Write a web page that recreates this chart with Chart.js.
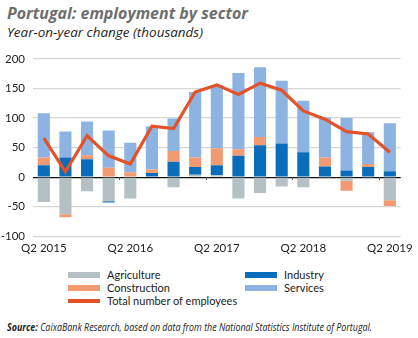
<!DOCTYPE html>
<html>
<head>
<meta charset="utf-8">
<script src="https://cdn.jsdelivr.net/npm/chart.js@4/dist/chart.umd.min.js"></script>
<style>
  html, body { margin: 0; padding: 0; background: #fff; }
  body { width: 418px; height: 338px; position: relative; overflow: hidden; font-family: Lato, "Open Sans", sans-serif; }
  .fit { position: absolute; white-space: nowrap; transform-origin: left center; display: inline-block; }
  #title { left: 7px; top: 2px; font: italic 700 16px "Open Sans", sans-serif; color: #6e6e6e; }
  #subtitle { left: 7px; top: 24px; font: italic 400 12.5px "Open Sans", sans-serif; color: #1e1e1e; }
  #chartBox { position: absolute; left: 0; top: 44px; width: 418px; height: 216px; }
  #legend { position: absolute; left: 0; top: 268px; width: 418px; height: 40px; }
  .item { position: absolute; height: 13px; line-height: 13px; font: 400 11px Lato, sans-serif; color: #222; white-space: nowrap; }
  .sw { position: absolute; left: 0; width: 32px; }
  .lbl { position: absolute; left: 39px; top: 0; }
  #source { left: 7px; top: 320px; font: italic 400 10px "Open Sans", sans-serif; color: #222; }
</style>
</head>
<body>
<div id="title" class="fit" data-w="241">Portugal: employment by sector</div>
<div id="subtitle" class="fit" data-w="196">Year-on-year change (thousands)</div>
<div id="chartBox"><canvas id="c"></canvas></div>
<div id="legend"></div>
<div id="source" class="fit" data-w="365"><b>Source:</b> CaixaBank Research, based on data from the National Statistics Institute of Portugal.</div>
<script>
// Quarterly year-on-year change in employment, thousands of people
const quarters = [
  "Q2 2015", "Q3 2015", "Q4 2015", "Q1 2016",
  "Q2 2016", "Q3 2016", "Q4 2016", "Q1 2017",
  "Q2 2017", "Q3 2017", "Q4 2017", "Q1 2018",
  "Q2 2018", "Q3 2018", "Q4 2018", "Q1 2019",
  "Q2 2019"
];
const agriculture  = [-42, -63, -24, -41, -36, 0, -17, 4, 3, -36, -27, -16, -17, -3, -6, -3, -39];
const industry     = [20, 33, 30, -2, 0, 7, 26, 13, 17, 36, 54, 57, 42, 18, 11, 17, 10];
const construction = [13, -5, 7, 16, 8, 6, 18, 16, 29, 11, 14, 0, 0, 15, -17, 5, -10];
const services     = [75, 44, 57, 63, 50, 73, 55, 111, 107, 129, 118, 106, 87, 68, 89, 54, 81];
const totalEmployees = [66, 9, 70, 36, 22, 86, 82, 144, 156, 140, 159, 147, 112, 98, 77, 73, 42];
const yTicks = [-100, -50, 0, 50, 100, 150, 200];

const COLORS = {
  agriculture: "#b4c0c4",
  industry: "#0a6dbb",
  construction: "#f29a72",
  services: "#8cb3e1",
  total: "#e4522a"
};

// Scale long text lines to their set widths
document.querySelectorAll(".fit").forEach(el => {
  const target = parseFloat(el.dataset.w);
  const w = el.getBoundingClientRect().width;
  if (w > 0) el.style.transform = "scaleX(" + (target / w) + ")";
});

// Short marks under the zero line separating the yearly groups
const yearMarks = {
  id: "yearMarks",
  afterDatasetsDraw(chart) {
    const x = chart.scales.x, y = chart.scales.y, ctx = chart.ctx;
    const y0 = y.getPixelForValue(0);
    ctx.save();
    ctx.strokeStyle = "#555";
    ctx.lineWidth = 1;
    for (let i = 3; i < quarters.length - 1; i += 4) {
      const px = Math.round((x.getPixelForValue(i) + x.getPixelForValue(i + 1)) / 2) + 0.5;
      ctx.beginPath();
      ctx.moveTo(px, y0);
      ctx.lineTo(px, y0 + 3);
      ctx.stroke();
    }
    ctx.restore();
  }
};

const barCommon = { type: "bar", stack: "sectors", order: 2, barPercentage: 0.56, categoryPercentage: 1.0, borderWidth: 0 };

const chart = new Chart(document.getElementById("c"), {
  data: {
    labels: quarters,
    datasets: [
      Object.assign({ label: "Agriculture", data: agriculture, backgroundColor: COLORS.agriculture }, barCommon),
      Object.assign({ label: "Industry", data: industry, backgroundColor: COLORS.industry }, barCommon),
      Object.assign({ label: "Construction", data: construction, backgroundColor: COLORS.construction }, barCommon),
      Object.assign({ label: "Services", data: services, backgroundColor: COLORS.services }, barCommon),
      {
        type: "line", label: "Total number of employees", data: totalEmployees, stack: "total", order: 1,
        borderColor: COLORS.total, backgroundColor: COLORS.total, borderWidth: 3.2,
        pointRadius: 0, pointHoverRadius: 0, tension: 0, fill: false, borderJoinStyle: "miter"
      }
    ]
  },
  options: {
    responsive: true,
    maintainAspectRatio: false,
    animation: false,
    devicePixelRatio: 1,
    layout: { padding: { left: 0, right: 15, top: 0, bottom: 0 } },
    plugins: { legend: { display: false }, tooltip: { enabled: false }, title: { display: false } },
    scales: {
      x: {
        stacked: true,
        offset: true,
        grid: { display: false, drawTicks: false },
        border: { display: false },
        ticks: {
          autoSkip: false, maxRotation: 0, minRotation: 0, padding: 5,
          color: "#222", font: { family: "Lato", size: 11.5 },
          callback: (v, i) => (i % 4 === 0 ? quarters[i] : "")
        }
      },
      y: {
        stacked: true,
        min: -100, max: 200,
        afterBuildTicks(scale) { scale.ticks = yTicks.map(v => ({ value: v })); },
        afterFit(scale) { scale.width = 33; },
        grid: {
          drawTicks: false,
          lineWidth: ctx => (ctx.tick && ctx.tick.value === 0 ? 1.2 : 1.3),
          color: ctx => (ctx.tick && ctx.tick.value === 0 ? "#111" : "#d6d6d6")
        },
        border: { display: false },
        ticks: { padding: 8, color: "#222", font: { family: "Lato", size: 11.5 } }
      }
    }
  },
  plugins: [yearMarks]
});

// Legend built from the chart's datasets, two columns
const legend = document.getElementById("legend");
const slots = [
  { ds: 0, left: 68, top: 0 }, { ds: 1, left: 245, top: 0 },
  { ds: 2, left: 68, top: 13 }, { ds: 3, left: 245, top: 13 },
  { ds: 4, left: 68, top: 26 }
];
slots.forEach(s => {
  const d = chart.data.datasets[s.ds];
  const item = document.createElement("div");
  item.className = "item";
  item.style.left = s.left + "px";
  item.style.top = s.top + "px";
  const sw = document.createElement("div");
  sw.className = "sw";
  const isLine = d.type === "line";
  sw.style.height = isLine ? "4px" : "6px";
  sw.style.top = isLine ? "5px" : "4px";
  sw.style.background = isLine ? d.borderColor : d.backgroundColor;
  const lbl = document.createElement("div");
  lbl.className = "lbl";
  lbl.textContent = d.label;
  item.appendChild(sw);
  item.appendChild(lbl);
  legend.appendChild(item);
});
</script>
</body>
</html>
